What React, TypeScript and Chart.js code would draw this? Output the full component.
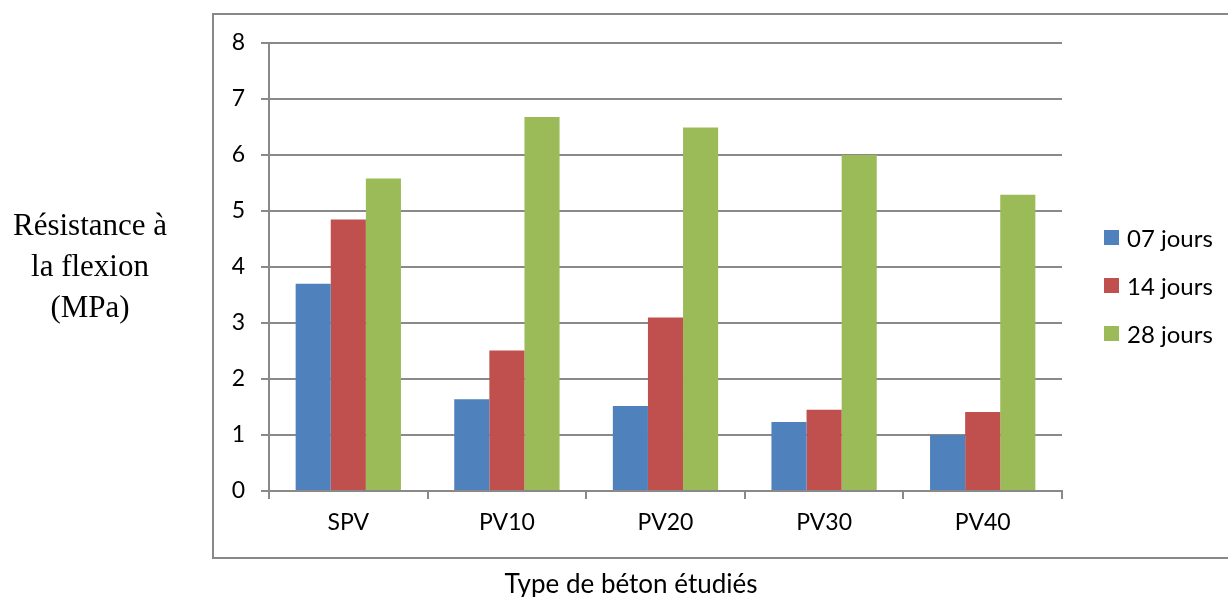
import React, { useEffect, useRef } from "react";
import { Chart, registerables } from "chart.js";

Chart.register(...registerables);

const categories = ["SPV", "PV10", "PV20", "PV30", "PV40"];
const seriesNames = ["07 jours", "14 jours", "28 jours"];
const jours07 = [3.7, 1.64, 1.52, 1.23, 1.0];
const jours14 = [4.85, 2.51, 3.1, 1.45, 1.41];
const jours28 = [5.58, 6.68, 6.49, 6.0, 5.29];
const colors = ["#4F81BD", "#C0504D", "#9BBB59"];
const yTicks = [0, 1, 2, 3, 4, 5, 6, 7, 8];
const xTitle = "Type de béton étudiés";
const yTitleLines = ["Résistance à", "la flexion", "(MPa)"];

const FONT = "Lato, 'Noto Sans', sans-serif";
const GRID = "#898989";

export default function App() {
  const ref = useRef<HTMLCanvasElement | null>(null);

  useEffect(() => {
    if (!ref.current) return;
    const series = [jours07, jours14, jours28];
    const chart = new Chart(ref.current, {
      type: "bar",
      data: {
        labels: categories,
        datasets: series.map((d, i) => ({
          label: seriesNames[i],
          data: d,
          backgroundColor: colors[i],
          borderWidth: 0,
          categoryPercentage: 0.664,
          barPercentage: 1,
        })),
      },
      options: {
        animation: false,
        responsive: false,
        maintainAspectRatio: false,
        layout: { padding: { left: 0, top: 43, right: 166, bottom: 0 } },
        plugins: { legend: { display: false }, tooltip: { enabled: false }, title: { display: false } },
        scales: {
          x: {
            offset: true,
            grid: { display: true, drawOnChartArea: false, drawTicks: true, tickLength: 8, offset: true, color: GRID, lineWidth: 2 },
            border: { display: true, color: GRID, width: 2 },
            ticks: { font: { family: FONT, size: 23 }, color: "#000", padding: 10, maxRotation: 0 },
            afterFit: (s: any) => { s.height = 106; },
          },
          y: {
            min: 0,
            max: 8,
            afterBuildTicks: (s: any) => { s.ticks = yTicks.map((v) => ({ value: v })); },
            grid: { color: GRID, lineWidth: 2, tickLength: 8, drawTicks: true },
            border: { display: true, color: GRID, width: 2 },
            ticks: { font: { family: FONT, size: 23 }, color: "#000", padding: 16 },
            afterFit: (s: any) => { s.width = 269; },
          },
        },
      },
    });
    return () => chart.destroy();
  }, []);

  return (
    <div style={{ position: "fixed", left: 0, top: 0, width: 1228, height: 597, background: "#fff", overflow: "hidden" }}>
      <div
        style={{
          position: "absolute",
          left: 212,
          top: 13,
          width: 1030,
          height: 546,
          boxSizing: "border-box",
          borderTop: "2px solid #888",
          borderLeft: "2px solid #888",
          borderBottom: "2px solid #888",
        }}
      />
      <canvas ref={ref} width={1228} height={597} style={{ position: "absolute", left: 0, top: 0 }} />
      <div
        style={{
          position: "absolute",
          left: 0,
          top: 204,
          width: 180,
          textAlign: "center",
          fontFamily: "'Liberation Serif', 'Times New Roman', serif",
          fontSize: 31,
          lineHeight: "41px",
          color: "#000",
        }}
      >
        {yTitleLines.map((l, i) => (
          <div key={i}>{l}</div>
        ))}
      </div>
      <div
        style={{
          position: "absolute",
          left: 431,
          width: 400,
          top: 567,
          textAlign: "center",
          fontFamily: FONT,
          fontSize: 26,
          lineHeight: "32px",
          color: "#000",
        }}
      >
        {xTitle}
      </div>
      {seriesNames.map((n, i) => (
        <div key={n} style={{ position: "absolute", left: 1104, top: 237 + i * 48 - 15, height: 30, display: "flex", alignItems: "center" }}>
          <div style={{ width: 15, height: 15, background: colors[i] }} />
          <span style={{ marginLeft: 8, fontFamily: FONT, fontSize: 24, color: "#000", whiteSpace: "nowrap" }}>{n}</span>
        </div>
      ))}
    </div>
  );
}
